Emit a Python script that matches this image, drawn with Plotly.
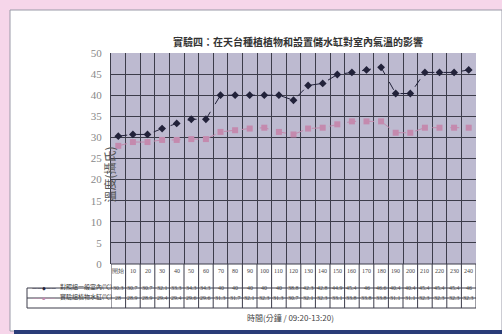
import plotly.graph_objects as go

# Category labels (minutes since 09:20) and two temperature series (°C)
categories = ["開始", "10", "20", "30", "40", "50", "60", "70", "80", "90", "100", "110",
              "120", "130", "140", "150", "160", "170", "180", "190", "200", "210",
              "220", "230", "240"]
control = [30.3, 30.7, 30.7, 32.1, 33.3, 34.3, 34.3, 40, 40, 40, 40, 40,
           38.8, 42.3, 42.8, 44.9, 45.4, 46, 46.6, 40.4, 40.4, 45.4, 45.4, 45.4, 46]
treated = [28, 28.9, 28.9, 29.4, 29.4, 29.6, 29.6, 31.3, 31.7, 32.1, 32.3, 31.3,
           30.7, 32.1, 32.3, 33.1, 33.8, 33.8, 33.8, 31.1, 31.1, 32.3, 32.3, 32.3, 32.3]
series_names = ["對照組一般室內(℃)", "實驗組植物水缸(℃)"]
y_ticks = [0, 5, 10, 15, 20, 25, 30, 35, 40, 45, 50]

W, H = 502, 334
L, R, T, B = 111, 26, 53, 70
PW, PH = W - L - R, H - T - B


def px(x):
    return (x - L) / PW


def py(y):
    return (H - B - y) / PH


xs = list(range(len(categories)))
grid = "#3c3c4a"
dark = "#22223a"
pink = "#c48aae"
plot_fill = "#bdbad0"

fig = go.Figure()
fig.add_trace(go.Scatter(
    x=xs, y=control, mode="lines+markers", name=series_names[0],
    line=dict(color=dark, width=1, dash="dash"),
    marker=dict(symbol="diamond", size=6, color=dark)))
fig.add_trace(go.Scatter(
    x=xs, y=treated, mode="lines+markers", name=series_names[1],
    line=dict(color=pink, width=1, dash="dash"),
    marker=dict(symbol="square", size=6, color=pink)))

shapes = []
# page background pieces: white card, border, bottom rule
shapes.append(dict(type="rect", xref="paper", yref="paper", x0=px(10), x1=px(502),
                   y0=py(331), y1=py(10), fillcolor="white",
                   line=dict(color="#9a9aa8", width=1), layer="below"))
shapes.append(dict(type="rect", xref="paper", yref="paper", x0=px(14), x1=px(502),
                   y0=py(334), y1=py(330), fillcolor="#2a3c78", line=dict(width=0)))
# plot area fill, kept under the gridlines
shapes.append(dict(type="rect", xref="x domain", yref="y domain", x0=0, x1=1, y0=0, y1=1,
                   fillcolor=plot_fill, line=dict(width=0), layer="below"))

# data table grid beneath the plot
row_y = [264, 288, 298, 308]
for i, yv in enumerate(row_y):
    x0 = px(111) if i == 0 else px(27)
    shapes.append(dict(type="line", xref="paper", yref="paper", x0=x0, x1=1,
                       y0=py(yv), y1=py(yv), line=dict(color=grid, width=1)))
for k in range(len(categories) + 1):
    shapes.append(dict(type="line", xref="x", yref="paper", x0=k - 0.5, x1=k - 0.5,
                       y0=py(308), y1=0, line=dict(color=grid, width=1)))
shapes.append(dict(type="line", xref="paper", yref="paper", x0=px(27), x1=px(27),
                   y0=py(308), y1=py(288), line=dict(color=grid, width=1)))

annotations = []
cell_font = dict(family="Liberation Serif", size=6, color="#444")
for i, c in enumerate(categories):
    annotations.append(dict(x=i, y=py(276), xref="x", yref="paper", text=c,
                            showarrow=False, font=cell_font))
    annotations.append(dict(x=i, y=py(293), xref="x", yref="paper", text=str(control[i]),
                            showarrow=False, font=cell_font))
    annotations.append(dict(x=i, y=py(303), xref="x", yref="paper", text=str(treated[i]),
                            showarrow=False, font=cell_font))

# legend keys in the table
for name, sym, col, yy in [(series_names[0], "◆", dark, 293), (series_names[1], "■", pink, 303)]:
    annotations.append(dict(x=px(30), y=py(yy), xref="paper", yref="paper",
                            text=f"——{sym}——", xanchor="left", showarrow=False,
                            font=dict(size=5, color=col)))
    annotations.append(dict(x=px(58), y=py(yy), xref="paper", yref="paper", text=name,
                            xanchor="left", showarrow=False,
                            font=dict(family="Noto Sans CJK TC", size=6, color="#333")))

annotations.append(dict(x=px(298), y=py(32), xref="paper", yref="paper",
                        text="<b>實驗四：在天台種植植物和設置儲水缸對室內氣溫的影響</b>",
                        showarrow=False,
                        font=dict(family="Noto Sans CJK TC", size=10, color="#333")))
annotations.append(dict(x=px(290), y=py(325), xref="paper", yref="paper",
                        text="時間(分鐘 / 09:20-13:20)", showarrow=False,
                        font=dict(family="Noto Sans CJK TC", size=8, color="#444")))
annotations.append(dict(x=px(98), y=py(175), xref="paper", yref="paper",
                        text="溫度(攝氏)", textangle=-90, showarrow=False,
                        font=dict(family="Noto Sans CJK TC", size=12, color="#555")))

fig.update_layout(
    width=W, height=H,
    margin=dict(l=L, r=R, t=T, b=B),
    paper_bgcolor="#f6d6ea",
    plot_bgcolor=plot_fill,
    showlegend=False,
    shapes=shapes,
    annotations=annotations,
    xaxis=dict(range=[-0.5, len(categories) - 0.5],
               tickvals=[k - 0.5 for k in range(len(categories) + 1)],
               showticklabels=False, ticks="", showgrid=True, gridcolor=grid, gridwidth=1,
               zeroline=False, showline=False),
    yaxis=dict(range=[0, 50], tickvals=y_ticks, showgrid=True, gridcolor=grid, gridwidth=1,
               zeroline=False, ticks="", showline=True, linecolor=grid,
               tickfont=dict(family="Liberation Serif", size=11, color="#888"),
               ticklabelstandoff=6),
)

fig.write_html("out.html")
